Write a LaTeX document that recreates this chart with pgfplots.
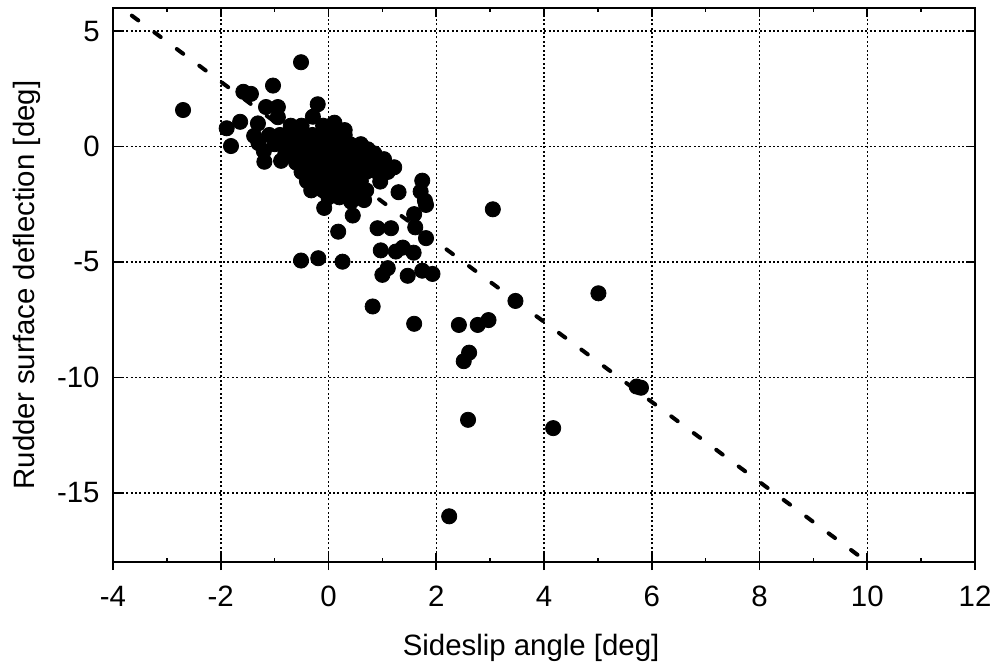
\documentclass[border=0pt]{standalone}
\usepackage{fontspec}
\setmainfont{Liberation Sans}
\usepackage{pgfplots}
\usepackage{pgfplotstable}
\pgfplotsset{compat=1.18}
\pgfplotstableread{
x y
-2.70 1.58
-0.51 3.65
-1.03 2.64
-1.58 2.37
-1.44 2.28
-1.16 1.71
-0.94 1.71
-0.94 1.27
-0.20 1.83
-0.29 1.29
-1.64 1.07
-1.89 0.79
-1.31 1.00
-1.38 0.46
-1.81 0.02
-1.19 -0.66
-0.88 -0.62
-1.30 0.15
-1.20 -0.20
-0.63 0.64
0.11 1.03
0.30 0.71
0.73 -0.12
1.03 -0.55
1.22 -0.90
0.96 -1.52
1.30 -1.98
1.74 -1.48
1.71 -1.95
1.79 -2.35
-0.08 -2.66
0.45 -2.99
1.59 -2.93
1.61 -3.50
1.81 -3.97
1.81 -2.53
0.18 -3.69
0.91 -3.54
1.16 -3.54
0.97 -4.50
1.25 -4.55
1.38 -4.38
1.58 -4.60
1.10 -5.27
1.00 -5.56
1.47 -5.60
1.74 -5.38
1.93 -5.52
-0.51 -4.94
-0.19 -4.84
0.26 -4.99
0.82 -6.93
1.59 -7.68
3.05 -2.72
5.01 -6.36
3.47 -6.69
2.42 -7.73
2.77 -7.73
2.97 -7.52
2.61 -8.93
2.51 -9.30
5.72 -10.40
5.80 -10.45
2.59 -11.84
4.17 -12.20
2.24 -16.02
0.42 -2.39
0.66 -2.32
-0.70 0.90
-0.50 0.90
-0.10 0.90
0.05 0.90
-1.10 0.50
-0.90 0.50
-0.70 0.50
-0.50 0.50
-0.30 0.50
-0.10 0.50
0.10 0.50
0.30 0.50
-1.00 0.10
-0.80 0.10
-0.60 0.10
-0.40 0.10
-0.20 0.10
0.00 0.10
0.20 0.10
0.40 0.10
0.60 0.10
-0.80 -0.30
-0.60 -0.30
-0.40 -0.30
-0.20 -0.30
0.00 -0.30
0.20 -0.30
0.40 -0.30
0.60 -0.30
0.85 -0.30
-0.60 -0.70
-0.40 -0.70
-0.20 -0.70
0.00 -0.70
0.20 -0.70
0.40 -0.70
0.60 -0.70
0.80 -0.70
1.00 -0.70
-0.50 -1.10
-0.30 -1.10
-0.10 -1.10
0.10 -1.10
0.30 -1.10
0.50 -1.10
0.70 -1.10
0.90 -1.10
1.10 -1.10
-0.40 -1.50
-0.20 -1.50
0.00 -1.50
0.20 -1.50
0.40 -1.50
0.60 -1.50
-0.32 -1.90
-0.10 -1.90
0.10 -1.90
0.30 -1.90
0.50 -1.90
0.70 -1.90
0.00 -2.20
0.20 -2.20
}\pointsdata
\begin{document}
\fontsize{14.7}{17}\selectfont
\begin{tikzpicture}
\begin{axis}[
  scale only axis, width=431pt, height=277pt,
  xmin=-4, xmax=12, ymin=-18, ymax=6,
  xtick={-4,-2,...,12}, ytick={-15,-10,...,5},
  minor xtick={-3,-1,...,11},
  grid=major,
  major grid style={black, line width=0.75pt, dash pattern=on 1pt off 1.2pt},
  axis line style={black, line width=1.2pt},
  tick style={black, line width=0.8pt},
  tick align=inside,
  major tick length=4.5pt, minor tick length=2pt,
  extra x ticks={-4,-2,...,12},
  extra x tick labels={},
  extra x tick style={grid=none, tick align=outside, major tick length=4pt, xtick pos=bottom},
  /pgf/number format/assume math mode=true,
  tick label style={font=\fontsize{14.7}{17}\selectfont},
  label style={font=\fontsize{14.7}{17}\selectfont},
  xticklabel style={anchor=base, yshift=-22pt},
  yticklabel style={anchor=east, xshift=-1.6pt},
  xlabel={Sideslip angle [deg]},
  ylabel={Rudder surface deflection [deg]},
  xlabel style={at={(axis description cs:0.485,-0.1679)}, anchor=base},
  ylabel style={at={(axis description cs:-0.0905,0.5)}, anchor=base},
  clip=true,
]
\addplot[only marks, mark=*, mark size=3.8pt, black] table[x=x, y=y] {\pointsdata};
\addplot[black, line width=2pt, line cap=round, dash pattern=on 4pt off 10pt] coordinates {(-3.65,5.67) (10,-18)};
\coordinate (sw) at (rel axis cs:0,0);
\coordinate (ne) at (rel axis cs:1,1);
\end{axis}
\pgfresetboundingbox
\path[use as bounding box] ([xshift=-56.5pt,yshift=-51.5pt]sw) rectangle ([xshift=14pt,yshift=4pt]ne);
\end{tikzpicture}
\end{document}
